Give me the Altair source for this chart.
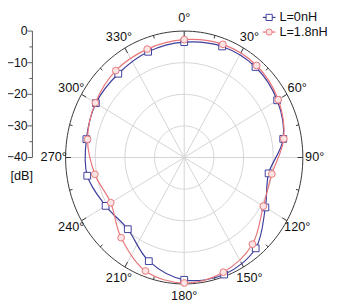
import altair as alt
import pandas as pd

# ---- data ----
angles = [0, 20, 40, 60, 80, 100, 120, 140, 160, 180, 200, 220, 240, 260, 280, 300, 320, 340]
blue_db = [-3.5, -2.6, -2.6, -3.8, -6.1, -11.1, -8.4, -2.5, -0.6, -1.3, -5.1, -10.4, -9.4, -6.8, -6.5, -5.6, -5.4, -4.4]
red_db = [-2.7, -1.9, -2.0, -3.4, -5.9, -10.0, -9.2, -4.2, -1.4, -0.3, -1.8, -6.9, -11.4, -9.4, -6.9, -5.4, -4.1, -3.5]
series = ["L=0nH", "L=1.8nH"]
colors = ["#3d3d9c", "#e8767a"]
fills = ["#ffffff", "#fbe4e4"]
shapes = ["square", "circle"]

grid_db = [-30, -20, -10]
label_angles = list(range(0, 360, 30))
minor_angles = list(range(15, 360, 30))
axis_db = [0, -10, -20, -30, -40]
axis_minor_db = [-5, -15, -25, -35]
R_MIN, R_MAX = -40, 0

FONT = "Liberation Sans"

xs = alt.Scale(domain=[-1, 1], nice=False, zero=False)
ys = alt.Scale(domain=[-1, 1], nice=False, zero=False)


def X(f):
    return alt.X(f, type="quantitative", scale=xs, axis=None)


def Y(f):
    return alt.Y(f, type="quantitative", scale=ys, axis=None)


rexpr = f"(datum.db - ({R_MIN})) / ({R_MAX} - ({R_MIN}))"

# ---- grid rings ----
rings = (
    alt.Chart(pd.DataFrame({"db": grid_db}))
    .transform_calculate(a="sequence(0, 361, 3)")
    .transform_flatten(["a"])
    .transform_calculate(r=rexpr)
    .transform_calculate(x="datum.r * sin(datum.a * PI / 180)", y="datum.r * cos(datum.a * PI / 180)")
    .mark_line(color="#d4d4d4", strokeWidth=1)
    .encode(x=X("x"), y=Y("y"), detail="db:N", order="a:Q")
)

outer = (
    alt.Chart(pd.DataFrame({"db": [R_MAX]}))
    .transform_calculate(a="sequence(0, 361, 2)")
    .transform_flatten(["a"])
    .transform_calculate(r=rexpr)
    .transform_calculate(x="datum.r * sin(datum.a * PI / 180)", y="datum.r * cos(datum.a * PI / 180)")
    .mark_line(color="#333333", strokeWidth=1)
    .encode(x=X("x"), y=Y("y"), order="a:Q")
)

spokes = (
    alt.Chart(pd.DataFrame({"a": label_angles}))
    .transform_calculate(x0="0", y0="0", x1="sin(datum.a * PI / 180)", y1="cos(datum.a * PI / 180)")
    .mark_rule(color="#d4d4d4", strokeWidth=1)
    .encode(x=X("x0"), y=Y("y0"), x2="x1:Q", y2="y1:Q")
)

major_ticks = (
    alt.Chart(pd.DataFrame({"a": label_angles}))
    .transform_calculate(
        x0="0.955 * sin(datum.a * PI / 180)", y0="0.955 * cos(datum.a * PI / 180)",
        x1="sin(datum.a * PI / 180)", y1="cos(datum.a * PI / 180)")
    .mark_rule(color="#333333", strokeWidth=1)
    .encode(x=X("x0"), y=Y("y0"), x2="x1:Q", y2="y1:Q")
)

minor_ticks = (
    alt.Chart(pd.DataFrame({"a": minor_angles}))
    .transform_calculate(
        x0="0.975 * sin(datum.a * PI / 180)", y0="0.975 * cos(datum.a * PI / 180)",
        x1="sin(datum.a * PI / 180)", y1="cos(datum.a * PI / 180)")
    .mark_rule(color="#333333", strokeWidth=1)
    .encode(x=X("x0"), y=Y("y0"), x2="x1:Q", y2="y1:Q")
)

angle_labels = (
    alt.Chart(pd.DataFrame({"a": label_angles}))
    .transform_calculate(
        x="1.1 * sin(datum.a * PI / 180)", y="1.1 * cos(datum.a * PI / 180)",
        t="datum.a + '°'")
    .mark_text(font=FONT, fontSize=13, color="#111111", align="center", baseline="middle")
    .encode(x=X("x"), y=Y("y"), text="t:N")
)

# ---- data curves ----
df = pd.DataFrame({
    "angle": angles * 2,
    "db": blue_db + red_db,
    "series": [series[0]] * len(angles) + [series[1]] * len(angles),
})

curve_layers = []
for s, c, f, sh in zip(series, colors, fills, shapes):
    base = (
        alt.Chart(df)
        .transform_filter(alt.datum.series == s)
        .transform_calculate(r=rexpr)
        .transform_calculate(x="datum.r * sin(datum.angle * PI / 180)", y="datum.r * cos(datum.angle * PI / 180)")
    )
    line = base.mark_line(interpolate="cardinal-closed", color=c, strokeWidth=1.2).encode(
        x=X("x"), y=Y("y"), order="angle:Q")
    pts = base.mark_point(shape=sh, filled=True, fill=f, stroke=c, strokeWidth=1, size=48, opacity=1).encode(
        x=X("x"), y=Y("y"))
    curve_layers += [line, pts]

# ---- left dB axis ----
AX = -34
axis_line = (
    alt.Chart(pd.DataFrame({"db": [R_MAX], "db2": [R_MIN]}))
    .transform_calculate(y="(datum.db - (-40)) / 40", y2="(datum.db2 - (-40)) / 40")
    .mark_rule(color="#555555", strokeWidth=1)
    .encode(x=alt.value(AX), y=Y("y"), y2="y2:Q")
)
axis_ticks = (
    alt.Chart(pd.DataFrame({"db": axis_db}))
    .transform_calculate(y=rexpr)
    .mark_rule(color="#555555", strokeWidth=1)
    .encode(x=alt.value(AX - 5), x2=alt.value(AX), y=Y("y"))
)
axis_mticks = (
    alt.Chart(pd.DataFrame({"db": axis_minor_db}))
    .transform_calculate(y=rexpr)
    .mark_rule(color="#555555", strokeWidth=1)
    .encode(x=alt.value(AX - 3), x2=alt.value(AX), y=Y("y"))
)
axis_labels = (
    alt.Chart(pd.DataFrame({"db": axis_db}))
    .transform_calculate(y=rexpr, t="format(datum.db, 'd')")
    .mark_text(font=FONT, fontSize=12.5, color="#111111", align="right", baseline="middle")
    .encode(x=alt.value(AX - 5), y=Y("y"), text="t:N")
)
axis_title = (
    alt.Chart(pd.DataFrame({"t": ["[dB]"]}))
    .mark_text(font=FONT, fontSize=13, color="#111111", align="center", baseline="middle")
    .encode(x=alt.value(-45), y=alt.value(149), text="t:N")
)

# ---- legend ----
legend_layers = []
for i, (s, c, f, sh) in enumerate(zip(series, colors, fills, shapes)):
    ly = -14 + 15 * i
    ld = pd.DataFrame({"t": [s]})
    legend_layers.append(
        alt.Chart(ld).mark_rule(color=c, strokeWidth=1.2).encode(
            x=alt.value(202), x2=alt.value(215), y=alt.value(ly)))
    legend_layers.append(
        alt.Chart(ld).mark_point(shape=sh, filled=True, fill=f, stroke=c, strokeWidth=1, size=40, opacity=1).encode(
            x=alt.value(208.5), y=alt.value(ly)))
    legend_layers.append(
        alt.Chart(ld).mark_text(font=FONT, fontSize=13, color="#111111", align="left", baseline="middle").encode(
            x=alt.value(219), y=alt.value(ly), text="t:N"))

chart = alt.layer(
    rings, spokes, outer, major_ticks, minor_ticks, angle_labels,
    *curve_layers,
    axis_line, axis_ticks, axis_mticks, axis_labels, axis_title,
    *legend_layers,
).properties(
    width=243, height=259,
    padding={"left": 59, "top": 20, "right": 35, "bottom": 21},
    autosize=alt.AutoSizeParams(type="none"),
    background="white",
).configure_view(stroke=None)

chart.save("out.html", embed_options={"renderer": "svg", "actions": False})
